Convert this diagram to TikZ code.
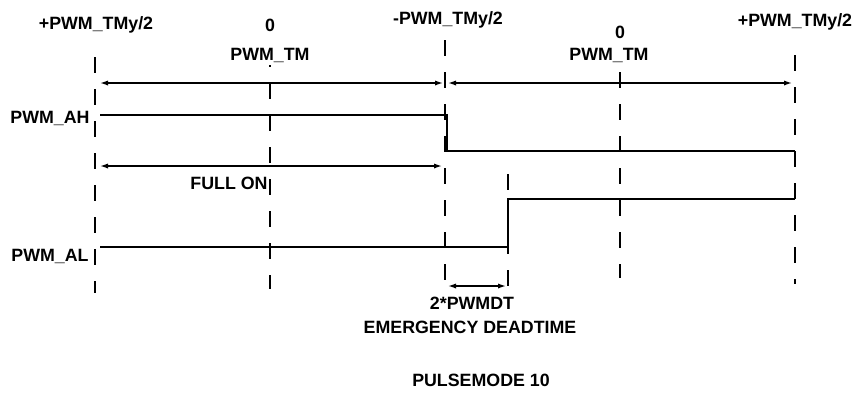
\documentclass[tikz,border=0pt]{standalone}
\usepackage{fontspec}
\setmainfont{Liberation Sans}
\usepackage{tikz}
\usetikzlibrary{arrows.meta,positioning}

\begin{document}
\begin{tikzpicture}[
    x=0.5pt, y=-0.5pt,
    font=\fontsize{8.9}{10}\selectfont\bfseries,
    lbl/.style={inner sep=0pt, anchor=center},
    gridline/.style={line width=1.4pt, dash pattern=on 8pt off 8pt},
    sig/.style={line width=0.9pt},
    dim/.style={{Latex[length=4pt,width=2.6pt]}-{Latex[length=4pt,width=2.6pt]}, line width=0.7pt}
]
\useasboundingbox (0,0) rectangle (864,393);

\node[lbl] (tl) at (96,25) {+PWM\_TMy/2};
\node[lbl] (zl) at (270,25) {0};
\node[lbl] (tm) at (448,20) {-PWM\_TMy/2};
\node[lbl] (zr) at (620,32) {0};
\node[lbl] (tr) at (795,22) {+PWM\_TMy/2};
\node[lbl] (pl) at (270,55) {PWM\_TM};
\node[lbl] (pr) at (609,55) {PWM\_TM};
\node[lbl] (ah) at (50,118) {PWM\_AH};
\node[lbl] (fo) at (229,183) {FULL ON};
\node[lbl] (al) at (50,256) {PWM\_AL};
\node[lbl] (dt) at (472,303) {2*PWMDT};
\node[lbl] (ed) at (470,327) {EMERGENCY DEADTIME};
\node[lbl] (pm) at (481,380) {PULSEMODE 10};

\coordinate (g1t) at (95,57);   \coordinate (g1b) at (95,293);
\coordinate (g2t) at (270,65);  \coordinate (g2b) at (270,289);
\coordinate (g3t) at (445,40);  \coordinate (g3b) at (445,286);
\coordinate (g4t) at (620,72);  \coordinate (g4b) at (620,278);
\coordinate (g5t) at (795,55);  \coordinate (g5b) at (795,284);
\coordinate (g6t) at (508,174); \coordinate (g6b) at (508,286);

\draw[gridline] (g1t) -- (g1b);
\draw[gridline, dash phase=7pt] (g2t) -- (g2b);
\draw[gridline] (g3t) -- (g3b);
\draw[gridline] (g4t) -- (g4b);
\draw[gridline] (g5t) -- (g5b);
\draw[gridline] (g6t) -- (g6b);

\coordinate (ah0) at (100,115); \coordinate (ah1) at (447,115);
\coordinate (ah2) at (447,151); \coordinate (ah3) at (795,151);
\draw[sig] (ah0) -- (ah1) -- (ah2) -- (ah3);

\coordinate (al0) at (100,247); \coordinate (al1) at (508,247);
\coordinate (al2) at (508,199); \coordinate (al3) at (795,199);
\draw[sig] (al0) -- (al1) -- (al2) -- (al3);

\coordinate (p1a) at (100,83); \coordinate (p1b) at (443,83);
\coordinate (p2a) at (448,83); \coordinate (p2b) at (792,83);
\coordinate (fa) at (100,166); \coordinate (fb) at (442,166);
\coordinate (da) at (448,286); \coordinate (db) at (506,286);
\draw[dim] (p1a) -- (p1b);
\draw[dim] (p2a) -- (p2b);
\draw[dim] (fa) -- (fb);
\draw[dim] (da) -- (db);
\end{tikzpicture}
\end{document}
